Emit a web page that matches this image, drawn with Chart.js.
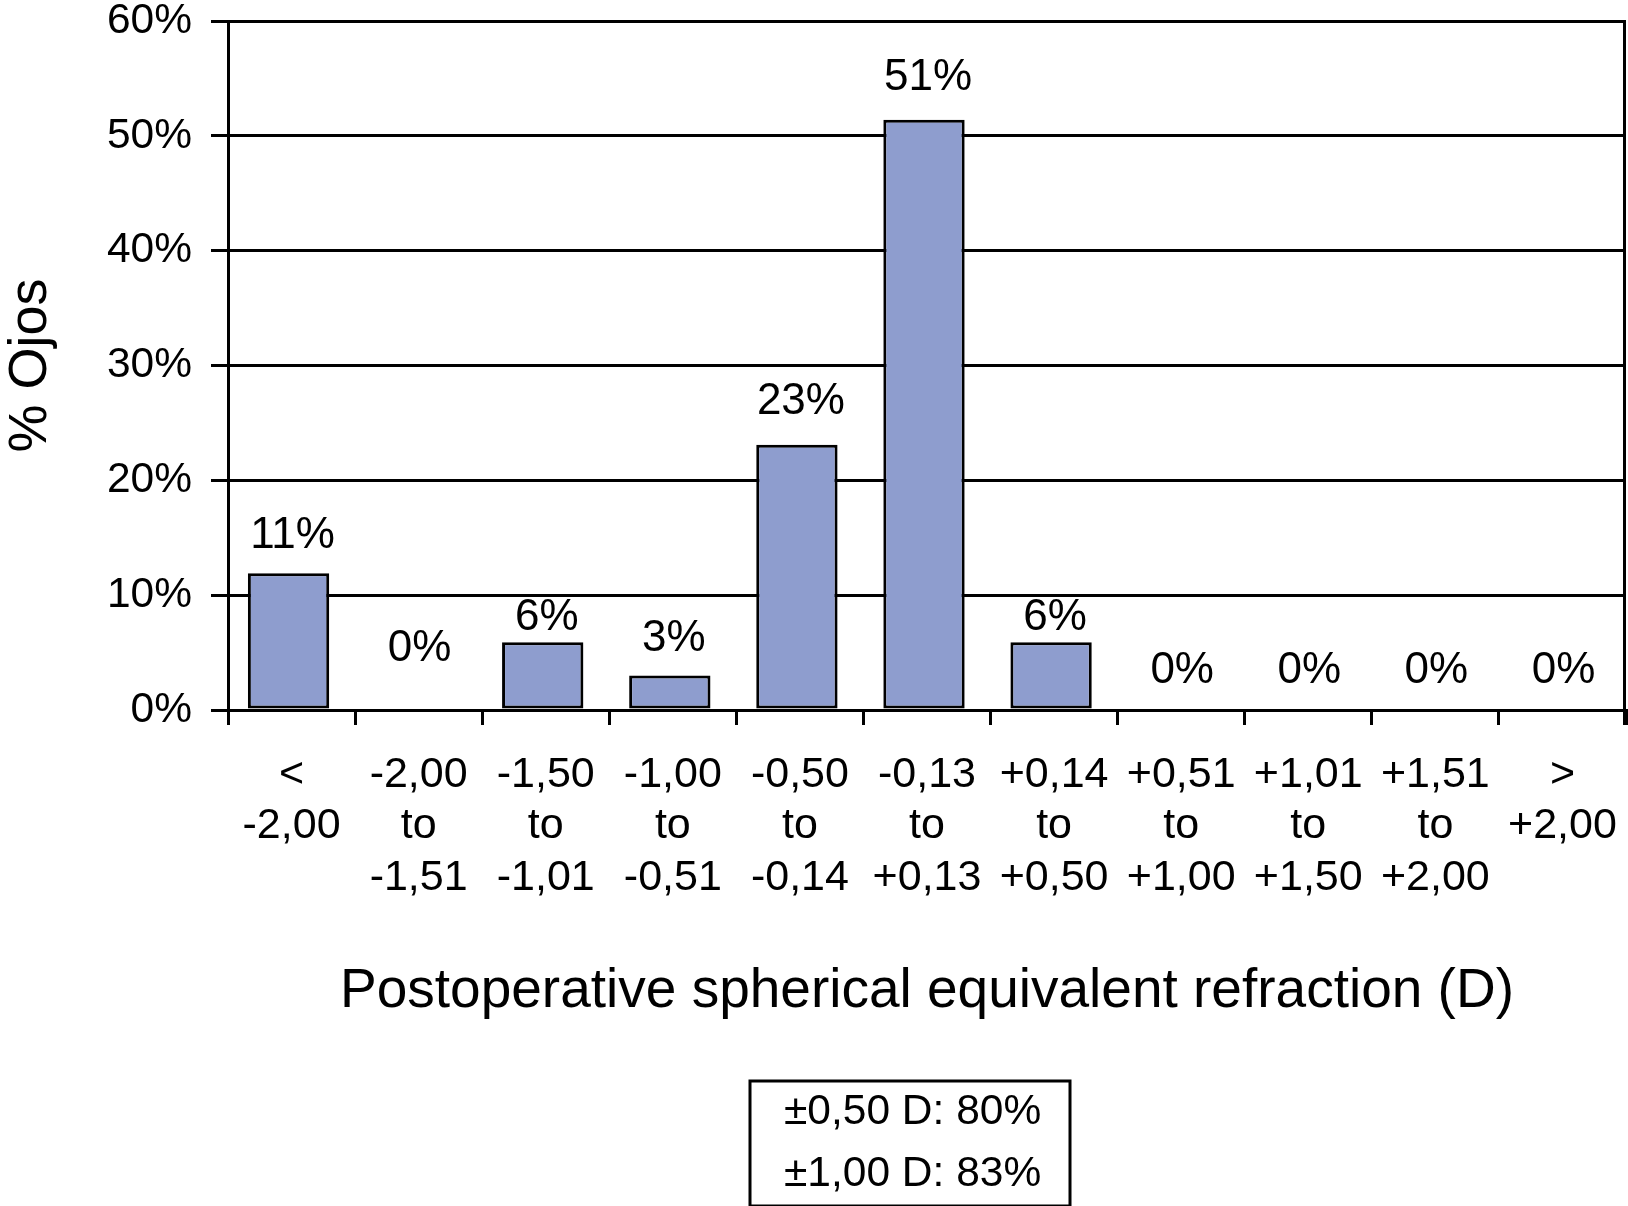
<!DOCTYPE html>
<html>
<head>
<meta charset="utf-8">
<script src="https://cdn.jsdelivr.net/npm/chart.js@4.4.1/dist/chart.umd.min.js"></script>
<style>
  html, body { margin: 0; padding: 0; background: #ffffff; }
  #wrap { width: 1628px; height: 1206px; position: relative; }
</style>
</head>
<body>
<div id="wrap"><canvas id="c" width="1628" height="1206"></canvas></div>
<script>
// ---- Data ----
const categories = [
  ['<', '-2,00'],
  ['-2,00', 'to', '-1,51'],
  ['-1,50', 'to', '-1,01'],
  ['-1,00', 'to', '-0,51'],
  ['-0,50', 'to', '-0,14'],
  ['-0,13', 'to', '+0,13'],
  ['+0,14', 'to', '+0,50'],
  ['+0,51', 'to', '+1,00'],
  ['+1,01', 'to', '+1,50'],
  ['+1,51', 'to', '+2,00'],
  ['>', '+2,00']
];
const percentEyes = [11.9, 0, 5.9, 3.0, 23.1, 51.4, 5.9, 0, 0, 0, 0];
const valueLabels = ['11%', '0%', '6%', '3%', '23%', '51%', '6%', '0%', '0%', '0%', '0%'];
const yTickLabels = ['0%', '10%', '20%', '30%', '40%', '50%', '60%'];
const xTitle = 'Postoperative spherical equivalent refraction (D)';
const yTitle = '% Ojos';
const summaryLines = ['\u00B10,50 D: 80%', '\u00B11,00 D: 83%'];

// ---- Styles ----
const FONT = '"Liberation Sans", Arial, Helvetica, sans-serif';
const BAR_FILL = '#8E9DCE';
const BAR_SHIFT = -3;
const labelOffsets = [39, 63, 26, 39, 45, 44, 26, 41, 41, 41, 41];

const barShiftPlugin = {
  id: 'barShift',
  beforeDatasetsDraw(chart) {
    chart.ctx.save();
    chart.ctx.translate(BAR_SHIFT, 0);
  },
  afterDatasetsDraw(chart) {
    chart.ctx.restore();
  }
};

const valueLabelPlugin = {
  id: 'valueLabels',
  afterDatasetsDraw(chart) {
    const ctx = chart.ctx;
    const meta = chart.getDatasetMeta(0);
    ctx.save();
    ctx.font = '44px ' + FONT;
    ctx.fillStyle = '#000';
    ctx.textAlign = 'center';
    ctx.textBaseline = 'middle';
    meta.data.forEach((bar, i) => {
      const topPx = chart.scales.y.getPixelForValue(percentEyes[i]);
      ctx.fillText(valueLabels[i], bar.x + 1, topPx - labelOffsets[i] + 2);
    });
    ctx.restore();
  }
};

const frameAndBoxPlugin = {
  id: 'frameAndBox',
  afterDraw(chart) {
    const ctx = chart.ctx;
    const ca = chart.chartArea;
    ctx.save();
    // right frame line
    ctx.strokeStyle = '#000';
    ctx.lineWidth = 3;
    ctx.beginPath();
    ctx.moveTo(ca.right - 1.5, ca.top);
    ctx.lineTo(ca.right - 1.5, ca.bottom + 15);
    ctx.stroke();
    // summary box
    const cx = (ca.left + ca.right) / 2;
    const left = cx - 177, top = ca.bottom + 371, w = 320, h = 125;
    ctx.lineWidth = 3;
    ctx.strokeRect(left, top, w, h);
    ctx.font = '42.5px ' + FONT;
    ctx.fillStyle = '#000';
    ctx.textAlign = 'left';
    ctx.textBaseline = 'middle';
    ctx.fillText(summaryLines[0], left + 34, top + 31);
    ctx.fillText(summaryLines[1], left + 34, top + 93);
    ctx.restore();
  }
};

new Chart(document.getElementById('c'), {
  type: 'bar',
  data: {
    labels: categories,
    datasets: [{
      data: percentEyes,
      backgroundColor: BAR_FILL,
      borderColor: '#000',
      borderWidth: 3,
      borderSkipped: false,
      barPercentage: 0.64,
      categoryPercentage: 1.0
    }]
  },
  options: {
    responsive: false,
    devicePixelRatio: 1,
    animation: false,
    layout: { padding: { top: 21, right: 2, left: 0, bottom: 176 } },
    plugins: {
      legend: { display: false },
      tooltip: { enabled: false },
      title: { display: false }
    },
    scales: {
      x: {
        offset: true,
        grid: {
          display: true,
          offset: true,
          drawOnChartArea: false,
          drawTicks: true,
          tickLength: 15,
          color: '#000',
          lineWidth: 3
        },
        border: { display: true, color: '#000', width: 3 },
        ticks: {
          color: '#000',
          autoSkip: false,
          maxRotation: 0,
          minRotation: 0,
          padding: 24,
          font: { family: FONT, size: 43, lineHeight: 1.2 }
        },
        title: {
          display: true,
          text: xTitle,
          color: '#000',
          font: { family: FONT, size: 55, lineHeight: 1.2 },
          padding: { top: 0, bottom: 5 }
        },
        afterFit(scale) {
          scale.height = 320;
          scale.paddingLeft = 0;
          scale.paddingRight = 0;
        }
      },
      y: {
        min: 0,
        max: 60,
        ticks: {
          stepSize: 10,
          color: '#000',
          padding: 19,
          font: { family: FONT, size: 42.5, lineHeight: 1.0 },
          callback: (v, i) => yTickLabels[i]
        },
        grid: {
          color: '#000',
          lineWidth: 3,
          drawTicks: true,
          tickLength: 17
        },
        border: { display: true, color: '#000', width: 3 },
        title: {
          display: true,
          text: yTitle,
          color: '#000',
          font: { family: FONT, size: 54, lineHeight: 1.15 },
          padding: { top: 0, bottom: 0 }
        },
        afterFit(scale) {
          scale.width = 228;
          scale.paddingTop = 0;
          scale.paddingBottom = 0;
        }
      }
    }
  },
  plugins: [barShiftPlugin, valueLabelPlugin, frameAndBoxPlugin]
});
</script>
</body>
</html>
